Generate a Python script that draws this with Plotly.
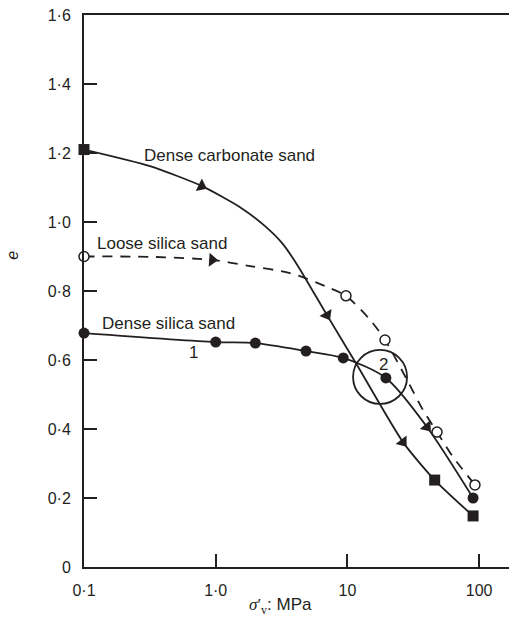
import math
import plotly.graph_objects as go

# ---------------- data ----------------
# Dense carbonate sand (solid line, square markers)
carb_pts_x = [0.1, 46, 90]
carb_pts_y = [1.21, 0.252, 0.148]
carb_curve_x = [0.1, 0.317, 0.787, 1.53, 2.37, 3.24, 4.22, 7.0, 11.8, 26.4, 46, 90]
carb_curve_y = [1.21, 1.162, 1.104, 1.043, 0.988, 0.936, 0.872, 0.730, 0.586, 0.362, 0.252, 0.148]
carb_arrow_x = [0.78, 7.0, 26.4]
carb_arrow_y = [1.104, 0.730, 0.362]
carb_arrow_ang = [26, 60, 52]

# Loose silica sand (dashed line, open circles)
loose_pts_x = [0.1, 9.75, 19.3, 47.9, 93]
loose_pts_y = [0.90, 0.786, 0.658, 0.391, 0.238]
loose_curve_x = [0.1, 0.317, 0.94, 1.82, 3.66, 7.0, 9.75, 14.9, 19.3, 28.4, 37.5, 47.9, 63.4, 93]
loose_curve_y = [0.90, 0.899, 0.890, 0.872, 0.852, 0.812, 0.786, 0.716, 0.658, 0.542, 0.455, 0.391, 0.319, 0.238]
loose_arrow_x = [0.94]
loose_arrow_y = [0.890]
loose_arrow_ang = [4]

# Dense silica sand (solid line, filled circles)
dense_pts_x = [0.1, 1.0, 2.0, 4.85, 9.3, 19.6, 90]
dense_pts_y = [0.678, 0.652, 0.649, 0.626, 0.606, 0.548, 0.20]
dense_curve_x = [0.1, 1.0, 2.0, 4.85, 9.3, 19.6, 40.2, 90]
dense_curve_y = [0.678, 0.652, 0.649, 0.626, 0.606, 0.548, 0.406, 0.20]
dense_arrow_x = [40.2]
dense_arrow_y = [0.406]
dense_arrow_ang = [50]

# Highlight circle "2"
ring_x = [17.7]
ring_y = [0.551]

x_tickvals = [0.1, 1, 10, 100]
x_ticktext = ["0·1", "1·0", "10", "100"]
y_tickvals = [0, 0.2, 0.4, 0.6, 0.8, 1.0, 1.2, 1.4, 1.6]
y_ticktext = ["0", "0·2", "0·4", "0·6", "0·8", "1·0", "1·2", "1·4", "1·6"]

labels = [
    ("Dense carbonate sand", 0.278, 1.194, "left"),
    ("Loose silica sand", 0.122, 0.939, "left"),
    ("Dense silica sand", 0.133, 0.707, "left"),
    ("1", 0.68, 0.623, "center"),
    ("2", 18.9, 0.588, "center"),
]

INK = "#231f20"
FONT = "Arial, 'Liberation Sans', Helvetica, sans-serif"

fig = go.Figure()

# curves
fig.add_trace(go.Scatter(x=carb_curve_x, y=carb_curve_y, mode="lines",
                         line=dict(color=INK, width=1.8, shape="spline", smoothing=0.6),
                         hoverinfo="skip"))
fig.add_trace(go.Scatter(x=loose_curve_x, y=loose_curve_y, mode="lines",
                         line=dict(color=INK, width=1.8, shape="spline", smoothing=0.8, dash="10px,8px"),
                         hoverinfo="skip"))
fig.add_trace(go.Scatter(x=dense_curve_x, y=dense_curve_y, mode="lines",
                         line=dict(color=INK, width=1.8, shape="spline", smoothing=0.8),
                         hoverinfo="skip"))

# ring
fig.add_trace(go.Scatter(x=ring_x, y=ring_y, mode="markers",
                         marker=dict(symbol="circle-open", size=54, color=INK, line=dict(width=1.8, color=INK)),
                         hoverinfo="skip"))

# arrows
for ax_, ay_, ang_ in [(carb_arrow_x, carb_arrow_y, carb_arrow_ang),
                       (loose_arrow_x, loose_arrow_y, loose_arrow_ang),
                       (dense_arrow_x, dense_arrow_y, dense_arrow_ang)]:
    fig.add_trace(go.Scatter(x=ax_, y=ay_, mode="markers",
                             marker=dict(symbol="triangle-right", size=12, color=INK, angle=ang_,
                                         line=dict(width=0)),
                             hoverinfo="skip"))

# markers
fig.add_trace(go.Scatter(x=carb_pts_x, y=carb_pts_y, mode="markers",
                         marker=dict(symbol="square", size=11, color=INK, line=dict(width=0)),
                         cliponaxis=False))
fig.add_trace(go.Scatter(x=loose_pts_x, y=loose_pts_y, mode="markers",
                         marker=dict(symbol="circle", size=10, color="white", line=dict(width=1.5, color=INK)),
                         cliponaxis=False))
fig.add_trace(go.Scatter(x=dense_pts_x, y=dense_pts_y, mode="markers",
                         marker=dict(symbol="circle", size=11, color=INK, line=dict(width=0)),
                         cliponaxis=False))

for text, lx, ly, anchor in labels:
    fig.add_annotation(x=math.log10(lx), y=ly, xref="x", yref="y", text=text, showarrow=False,
                       xanchor=anchor, yanchor="middle", font=dict(size=17, color=INK, family=FONT))

# axis titles
fig.add_annotation(x=-0.168, y=0.565, xref="paper", yref="paper", text="<i>e</i>", showarrow=False,
                   xanchor="center", yanchor="middle",
                   textangle=-90, font=dict(size=16, color=INK, family=FONT))
fig.add_annotation(x=0.463, y=-0.071, xref="paper", yref="paper",
                   text="<span style=\"font-family:'Liberation Serif', 'Times New Roman', serif\"><i>σ</i>′<sub>v</sub></span>: MPa",
                   showarrow=False, xanchor="center", yanchor="middle",
                   font=dict(size=17, color=INK, family=FONT))

fig.update_layout(
    width=509, height=623, autosize=False,
    margin=dict(l=84, r=0, t=15, b=56, pad=0),
    plot_bgcolor="white", paper_bgcolor="white",
    showlegend=False,
    font=dict(family=FONT, size=16, color=INK),
)
fig.update_xaxes(type="log", range=[-1, 2.227], tickvals=x_tickvals, ticktext=x_ticktext,
                 ticks="inside", ticklen=13, tickwidth=2, tickcolor=INK,
                 showline=True, linewidth=2, linecolor=INK, mirror=True,
                 showgrid=False, zeroline=False, ticklabelstandoff=8,
                 tickfont=dict(size=16, color=INK, family=FONT))
fig.update_yaxes(range=[0, 1.6], tickvals=y_tickvals, ticktext=y_ticktext,
                 ticks="inside", ticklen=13, tickwidth=2, tickcolor=INK,
                 showline=True, linewidth=2, linecolor=INK, mirror=False,
                 showgrid=False, zeroline=False, ticklabelstandoff=8,
                 tickfont=dict(size=16, color=INK, family=FONT))

fig.write_html("out.html")
